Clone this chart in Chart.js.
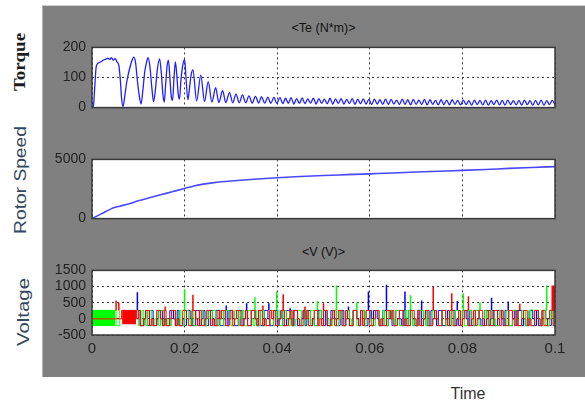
<!DOCTYPE html>
<html>
<head>
<meta charset="utf-8">
<script src="https://cdn.jsdelivr.net/npm/chart.js@4.4.1/dist/chart.umd.min.js"></script>
<style>
body { margin:0; background:#fff; font-family:"Liberation Sans", Arial, sans-serif; }
#wrap { position:relative; width:585px; height:405px; overflow:hidden; }
#panel { position:absolute; left:42px; top:5px; width:543px; height:372px; background:#808080;
         border-left:1px solid #b4b4b4; border-top:1px solid #cfcfcf; box-sizing:border-box; }
canvas { position:absolute; left:42px; }
.title { position:absolute; left:92px; width:463px; text-align:center; font-size:12.5px; line-height:14px; color:#111; }
.ylab { position:absolute; width:140px; height:22px; line-height:22px; text-align:center; white-space:nowrap; }
</style>
</head>
<body>
<div id="wrap">
  <div id="panel"></div>
  <div class="title" style="top:21px">&lt;Te (N*m)&gt;</div>
  <div class="title" style="top:245px">&lt;V (V)&gt;</div>
  <div class="ylab" style="left:-49px; top:51px; font:bold 17px 'Liberation Serif', 'Times New Roman', serif; color:#1c1c1c; transform:rotate(-90deg) scale(1.12,1);">Torque</div>
  <div class="ylab" style="left:-49px; top:169px; font-size:16px; color:#34495e; transform:rotate(-90deg) scale(1.2,1);">Rotor Speed</div>
  <div class="ylab" style="left:-46px; top:301px; font-size:17px; color:#34495e; transform:rotate(-90deg) scale(1.2,1);">Voltage</div>
  <div style="position:absolute; left:428px; top:384px; width:80px; text-align:center; font-size:16px; line-height:20px; color:#333;">Time</div>
  <canvas id="cTorque" width="543" height="89" style="top:33px"></canvas>
  <canvas id="cSpeed" width="543" height="88" style="top:145px"></canvas>
  <canvas id="cVolt" width="543" height="107" style="top:256px"></canvas>
</div>
<script>
// ---- data ----
var xTicks = [0, 0.02, 0.04, 0.06, 0.08, 0.1];

// electromagnetic torque <Te (N*m)>, [time, value]
var torquePts = [
  [0,0],[0.0003,5],[0.0006,70],[0.0009,135],[0.0012,146],[0.0016,150],[0.002,153],[0.0025,158],
  [0.003,161],[0.0034,164],[0.0038,160],[0.0042,166],[0.0046,158],[0.005,163],[0.0054,152],[0.0058,140],
  [0.0061,95],[0.0064,30],[0.0067,4],[0.0071,40],[0.0075,85],[0.0079,115],[0.0083,140],[0.0087,160],
  [0.009,168],[0.0094,150],[0.0098,90],[0.0102,40],[0.0106,12],[0.011,60],[0.0114,120],[0.0118,152],
  [0.0121,166],[0.0125,138],[0.0129,70],[0.0133,20],[0.0137,60],[0.0141,125],[0.0146,162],[0.015,110],
  [0.0153,45],[0.0156,18],[0.0159,75],[0.0162,135],[0.0165,158],[0.0168,105],[0.0171,40],[0.0174,24],
  [0.0177,95],[0.018,152],[0.0183,112],[0.0186,48],[0.0189,28],[0.0192,90],[0.0196,140],[0.02,160],
  [0.0203,100],[0.0207,26],[0.0211,70],[0.0214,108],[0.0218,125],[0.0226,22],[0.0235,108],[0.0243,20],
  [0.0251,86],[0.0259,18],[0.0267,66],[0.0274,17],[0.0282,56],[0.0289,17],[0.0297,50],[0.0304,16],
  [0.0311,45],[0.0318,16],[0.0325,42],[0.0332,16],[0.0339,39],[0.0346,15],[0.0353,37],[0.036,15],
  [0.0366,36],[0.0373,15],[0.038,35],[0.0386,14],[0.0393,34],[0.0399,14],[0.0406,33],[0.0412,13],
  [0.0418,31],[0.0424,14],[0.043,33],[0.0436,12],[0.0442,30],[0.0448,14],[0.0454,32],[0.046,13],
  [0.0466,29],[0.0472,15],[0.0478,31],[0.0484,12],[0.049,30],[0.0496,14],[0.0502,28],[0.0508,13],
  [0.0514,31],[0.052,12],[0.0526,29],[0.0532,14],[0.0538,30],[0.0544,12],[0.055,27],[0.0556,13],
  [0.0562,30],[0.0568,11],[0.0574,28],[0.058,13],[0.0586,29],[0.0592,12],[0.0598,27],[0.0604,10],
  [0.061,28],[0.0616,12],[0.0622,26],[0.0628,11],[0.0634,28],[0.064,10],[0.0646,27],[0.0652,12],
  [0.0658,25],[0.0664,10],[0.067,28],[0.0676,11],[0.0682,26],[0.0688,9],[0.0694,27],[0.07,11],
  [0.0706,25],[0.0712,10],[0.0718,27],[0.0724,9],[0.073,26],[0.0736,11],[0.0742,24],[0.0748,9],
  [0.0754,26],[0.076,10],[0.0766,25],[0.0772,9],[0.0778,26],[0.0784,11],[0.079,24],[0.0796,9],
  [0.0802,25],[0.0808,10],[0.0814,23],[0.082,8],[0.0826,25],[0.0832,10],[0.0838,24],[0.0844,9],
  [0.085,25],[0.0856,8],[0.0862,23],[0.0868,10],[0.0874,25],[0.088,9],[0.0886,24],[0.0892,8],
  [0.0898,25],[0.0904,10],[0.091,23],[0.0916,9],[0.0922,24],[0.0928,8],[0.0934,25],[0.094,10],
  [0.0946,23],[0.0952,8],[0.0958,24],[0.0964,9],[0.097,25],[0.0976,8],[0.0982,23],[0.0988,10],
  [0.0994,24],[0.1,9]
];

// rotor speed
var speedT = [0, 0.002, 0.004, 0.005, 0.006, 0.008, 0.01, 0.012, 0.014, 0.016, 0.018, 0.02, 0.022, 0.024,
              0.026, 0.028, 0.03, 0.035, 0.04, 0.045, 0.05, 0.055, 0.06, 0.065, 0.07, 0.075, 0.08, 0.085,
              0.09, 0.095, 0.1];
var speedV = [0, 400, 800, 950, 1050, 1250, 1500, 1720, 1930, 2130, 2340, 2550, 2760, 2910,
              3020, 3110, 3180, 3330, 3450, 3550, 3640, 3710, 3780, 3850, 3930, 4000, 4070, 4150,
              4240, 4320, 4390];

// three phase voltages <V (V)>, one code per 0.4 ms sample: H high, Z zero, L low, - no trace
var vStep = 0.0004;
var vLevels = { H: 260, Z: 0, L: -210 };
var redCodes =
  "ZZZZZZZZ" + "ZZZZZZZZ" + "HHHHHHHH" + "ZHLLZHHLZLLHHZLHLLZHHLZLLH" +
  "HZLLHHZLHLLZHHLZLLHZHHLLZHLZHHLLZHLLHHZLHHLZLLHZHL" +
  "LZHHLLZHLHHZLLHZHLLZHHLZLHHLLZHLZHHLLHZLLHHZLHLZHH" +
  "LLZHHLZLLHHZHLLZHHLZLLHHZLHLLZHHLLZHZLLHHZLHHLLZHL" +
  "ZHHLLZHLZHHLLZHLLHHZLHZLLHHZLHLLZHHLZLLHHZLHLLZHHL" + "H";
var greenCodes =
  "HHHHHHHHHH" + "HHH" + "LLH" + "--------" + "HLLHZLHHLLZHLHHLZLLHHZLHLL" +
  "HHZLHLLZHHLLHZLHHLLZHLHHZLLHHLZHLLHHZLHLLHHZLLHHLZ" +
  "HLLHHZLHLLZHHLLHZLHHLLZHLHHZLLHHLZHLLHHZLHHLLZHLHH" +
  "ZLLHHLZHLLHHZLHHLLZHLHHLZLLHHZLHLLHHZLLHHLZHLLHHZL" +
  "HLLHHZLHHLLZHLHHLZLLHHZLHLLHHZLLHHLZHLLHHZLHHLLZHL" + "H";
var blueCodes =
  "--------" + "--------" + "--------" + "HHLLZHLHHLLZHHLZLLHHZLHLLZ" +
  "LHHZLLHHLZHLLHHZLHHLLZHLHHZLLHHLZHLLHHZLHLLHHZLLHH" +
  "LZHLLHHZLHHLLZHLHHLZLLHHZLHLLHHZLLHHLZHLLHHZLHHLLZ" +
  "HLHHZLLHHLZHLLHHZLHLLHHZLLHHLZHLLHHZLHHLLZHLHHLZLL" +
  "HHZLHLLHHZLLHHLZHLLHHZLHHLLZHLHHLZLLHHZLHLLHHZLLHH" + "H";

// voltage spikes [time, peak]
var redSpikes = [[0.0052,570],[0.0058,500],[0.0158,380],[0.0218,750],[0.0369,410],[0.0413,765],
                 [0.046,380],[0.05,480],[0.0737,990],[0.0777,795],[0.0813,700],[0.0924,465],
                 [0.0994,1035],[0.0997,1035],[0.1,1035]];
var greenSpikes = [[0.02,920],[0.0352,670],[0.0399,845],[0.0487,555],[0.0528,1035],[0.0572,505],
                   [0.0688,730],[0.0802,795],[0.0838,505],[0.095,300],[0.0982,1035]];
var blueSpikes = [[0.0098,825],[0.029,410],[0.0334,480],[0.0382,485],[0.0428,330],[0.0554,380],
                  [0.0597,845],[0.0636,1055],[0.0676,845],[0.0712,570],[0.0789,555],[0.0863,650],
                  [0.0899,535]];

// solid switching blocks at start-up: [t start, t end, top, bottom]
var greenBlock = [0, 0.005, 260, -220];
var redBlock = [0.0065, 0.0095, 260, -170];

// ---- build ----
var fontFam = "'Liberation Sans', Arial, sans-serif";

var framePlugin = {
    id: 'frame',
    beforeDraw: function (chart) {
        var a = chart.chartArea, ctx = chart.ctx;
        ctx.save();
        ctx.fillStyle = '#ffffff';
        ctx.fillRect(a.left, a.top, a.right - a.left, a.bottom - a.top);
        ctx.restore();
    },
    afterDraw: function (chart) {
        var a = chart.chartArea, ctx = chart.ctx;
        ctx.save();
        ctx.strokeStyle = '#3a3a3a';
        ctx.lineWidth = 1.5;
        ctx.strokeRect(a.left, a.top, a.right - a.left, a.bottom - a.top);
        ctx.restore();
    }
};

function makeScales(yMin, yMax, yStep, xHeight, showX) {
    return {
        x: {
            type: 'linear', min: 0, max: 0.1,
            afterBuildTicks: function (s) { s.ticks = xTicks.map(function (v) { return { value: v }; }); },
            ticks: {
                display: showX, autoSkip: false, maxRotation: 0, padding: 5, color: '#222',
                font: { family: fontFam, size: 15 },
                callback: function (v) { return String(+v.toFixed(2)); }
            },
            grid: { color: '#3a3a3a', lineWidth: 1, drawTicks: false },
            border: { display: false, dash: [2, 3] },
            afterFit: function (s) { s.height = xHeight; }
        },
        y: {
            min: yMin, max: yMax,
            ticks: {
                stepSize: yStep, autoSkip: false, padding: 6, color: '#222',
                font: { family: fontFam, size: 14 },
                callback: function (v) { return String(v); }
            },
            grid: { color: '#3a3a3a', lineWidth: 1, drawTicks: false },
            border: { display: false, dash: [2, 3] },
            afterFit: function (s) { s.width = 50; }
        }
    };
}

function baseOptions(scales) {
    return {
        responsive: false,
        animation: false,
        events: [],
        layout: { padding: { top: 10, right: 30, left: 0, bottom: 0 } },
        plugins: { legend: { display: false }, tooltip: { enabled: false } },
        elements: { point: { radius: 0 } },
        scales: scales
    };
}

function stepSeries(codes) {
    return codes.split('').map(function (c, i) {
        return { x: +(i * vStep).toFixed(4), y: c === '-' ? null : vLevels[c] };
    });
}

function spikeSeries(list) {
    var out = [];
    list.forEach(function (s) {
        out.push({ x: s[0], y: vLevels.H }, { x: s[0], y: s[1] }, { x: s[0], y: null });
    });
    return out;
}

function blockSet(b, color) {
    return {
        data: [{ x: b[0], y: b[2] }, { x: b[1], y: b[2] }],
        borderColor: color, backgroundColor: color, borderWidth: 1,
        fill: { value: b[3] }
    };
}

new Chart(document.getElementById('cTorque'), {
    type: 'line',
    data: {
        datasets: [{
            data: torquePts.map(function (p) { return { x: p[0], y: p[1] }; }),
            borderColor: '#1f1fff', borderWidth: 1.3, cubicInterpolationMode: 'monotone'
        }]
    },
    options: baseOptions(makeScales(0, 200, 100, 10, false)),
    plugins: [framePlugin]
});

new Chart(document.getElementById('cSpeed'), {
    type: 'line',
    data: {
        datasets: [{
            data: speedT.map(function (t, i) { return { x: t, y: speedV[i] }; }),
            borderColor: '#4848ff', borderWidth: 1.6, cubicInterpolationMode: 'monotone'
        }]
    },
    options: baseOptions(makeScales(0, 5000, 5000, 10, false)),
    plugins: [framePlugin]
});

new Chart(document.getElementById('cVolt'), {
    type: 'line',
    data: {
        datasets: [
            { data: stepSeries(redCodes), borderColor: '#ff0000', borderWidth: 1, stepped: true, spanGaps: false },
            { data: stepSeries(greenCodes), borderColor: '#00ff00', borderWidth: 1, stepped: true, spanGaps: false },
            { data: stepSeries(blueCodes), borderColor: '#0000ff', borderWidth: 1, stepped: true, spanGaps: false },
            { data: spikeSeries(redSpikes), borderColor: '#ff0000', borderWidth: 1.5, spanGaps: false },
            { data: spikeSeries(greenSpikes), borderColor: '#00ff00', borderWidth: 1.5, spanGaps: false },
            { data: spikeSeries(blueSpikes), borderColor: '#0000ff', borderWidth: 1.5, spanGaps: false },
            blockSet(redBlock, '#ff0000'),
            blockSet(greenBlock, '#00ff00')
        ]
    },
    options: baseOptions(makeScales(-500, 1500, 500, 28, true)),
    plugins: [framePlugin]
});
</script>
</body>
</html>
